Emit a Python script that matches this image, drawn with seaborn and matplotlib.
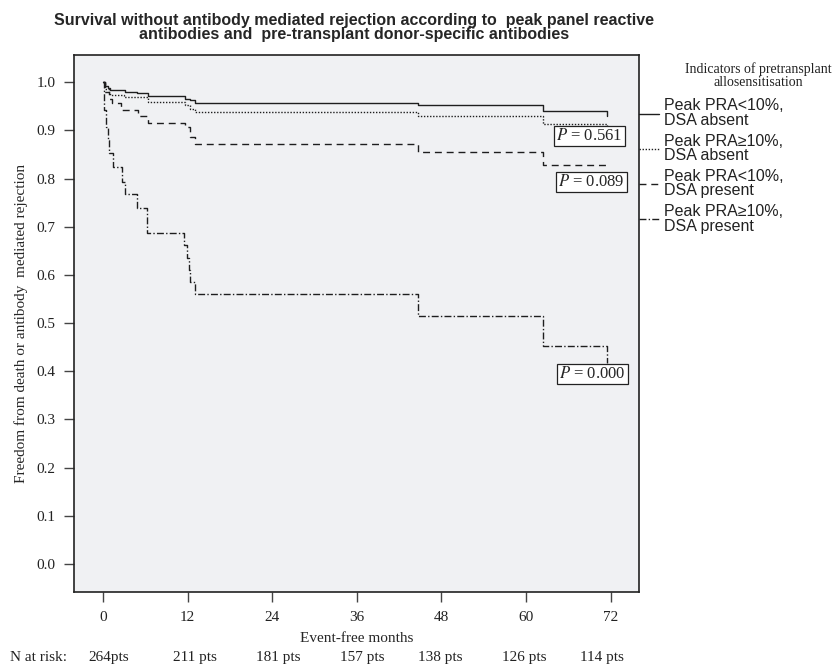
# Kaplan-Meier style curves: survival without antibody mediated rejection
import seaborn as sns
import matplotlib.pyplot as plt
import pandas as pd
from matplotlib.lines import Line2D
from matplotlib.transforms import blended_transform_factory

# curve data (months, survival)
months_a = [0, 0.3, 0.75, 1.0, 3.1, 4.8, 6.4, 11.6, 12.3, 13.0, 44.6, 62.4, 71.4]
surv_a = [1.0, 0.992, 0.987, 0.983, 0.980, 0.977, 0.972, 0.966, 0.962, 0.957, 0.952, 0.941, 0.930]

months_b = [0, 0.3, 0.8, 1.0, 3.0, 6.4, 11.6, 12.3, 13.0, 44.6, 62.4, 71.4]
surv_b = [1.0, 0.985, 0.978, 0.973, 0.970, 0.959, 0.952, 0.944, 0.938, 0.929, 0.914, 0.910]

months_c = [0, 0.3, 0.8, 1.3, 2.6, 5.0, 6.4, 11.6, 12.3, 13.0, 44.6, 62.4, 71.4]
surv_c = [1.0, 0.980, 0.965, 0.956, 0.942, 0.929, 0.916, 0.907, 0.887, 0.871, 0.855, 0.828, 0.824]

months_d = [0, 0.2, 0.4, 0.7, 0.9, 1.4, 2.65, 3.1, 4.8, 6.3, 11.5, 11.95, 12.2, 12.4, 13.0, 44.6, 62.4, 71.4]
surv_d = [1.0, 0.942, 0.907, 0.880, 0.853, 0.824, 0.793, 0.767, 0.738, 0.686, 0.662, 0.635, 0.610, 0.586, 0.560, 0.515, 0.452, 0.417]

groups = ["Peak PRA<10%,\nDSA absent", "Peak PRA\u226510%,\nDSA absent",
          "Peak PRA<10%,\nDSA present", "Peak PRA\u226510%,\nDSA present"]
p_values = ["0.561", "0.089", "0.000"]
x_ticks = [0, 12, 24, 36, 48, 60, 72]
n_at_risk = ["264pts", "211 pts", "181 pts", "157 pts", "138 pts", "126 pts", "114 pts"]

frames = []
for g, t, s in zip(groups, [months_a, months_b, months_c, months_d], [surv_a, surv_b, surv_c, surv_d]):
    frames.append(pd.DataFrame({"months": t, "surv": s, "group": g}))
df = pd.concat(frames, ignore_index=True)

sns.set_theme(style="ticks")
plt.rcParams["font.family"] = ["Liberation Serif", "DejaVu Serif"]
plt.rcParams["mathtext.fontset"] = "stix"

serif = ["Liberation Serif", "DejaVu Serif"]
sans = ["Liberation Sans", "DejaVu Sans"]
line_col = "#1e1e1e"
dash_map = {groups[0]: "", groups[1]: (1, 1.2), groups[2]: (5, 3.5), groups[3]: (5, 1.6, 1, 1.6)}

fig = plt.figure(figsize=(8.32, 6.65), dpi=100)
ax = fig.add_axes([0.089, 0.110, 0.679, 0.807])
ax.set_facecolor("#f0f1f3")

sns.lineplot(data=df, x="months", y="surv", hue="group", style="group",
             palette={g: line_col for g in groups}, dashes=dash_map,
             drawstyle="steps-post", linewidth=1.0, estimator=None,
             sort=False, legend=False, ax=ax)

ax.set_xlim(-4.1, 76)
ax.set_ylim(-0.058, 1.056)
ax.set_xticks(x_ticks)
ax.set_yticks([i / 10 for i in range(11)])
ax.set_yticklabels([f"{i / 10:.1f}" for i in range(11)])
ax.tick_params(length=7.5, width=1, color="#444444", labelsize=11, labelcolor="#222222", pad=6)
for sp in ax.spines.values():
    sp.set_color("#222222")
    sp.set_linewidth(1.2)

ax.set_xlabel("Event-free months", fontsize=11, family=serif, labelpad=6)
ax.set_ylabel("Freedom from death or antibody  mediated rejection", fontsize=11, family=serif, labelpad=6)

# P-value boxes
for (px, py), p in zip([(69.0, 0.888), (69.3, 0.793), (69.4, 0.394)], p_values):
    ax.text(px, py, rf"$P$ = {p}", ha="center", va="center", fontsize=12, family=serif,
            bbox=dict(boxstyle="square,pad=0.12", fc="white", ec="#222222", lw=0.9))

fig.text(0.4255, 0.980, "Survival without antibody mediated rejection according to  peak panel reactive\n"
         "antibodies and  pre-transplant donor-specific antibodies",
         ha="center", va="top", fontsize=11.5, fontweight="bold", family=sans, linespacing=0.9)

# legend
fig.text(0.999, 0.8865, "Indicators of pretransplant\nallosensitisation", ha="right", va="center",
         multialignment="center", fontsize=10, family=serif, linespacing=1.0, color="#222222")
handles = [Line2D([], [], color=line_col, lw=1.0,
                  linestyle="-" if dash_map[g] == "" else (0, dash_map[g])) for g in groups]
leg = fig.legend(handles, groups, loc="upper left", bbox_to_anchor=(0.768, 0.852),
                 frameon=False, handlelength=1.25, handletextpad=0.3, labelspacing=0.37,
                 prop={"family": sans, "size": 11.5}, borderaxespad=0, borderpad=0)
for t in leg.get_texts():
    t.set_linespacing(0.95)
    t.set_color("#222222")

# numbers at risk below the axis (labels sit on their own, slightly narrower grid)
trans = blended_transform_factory(ax.transData, fig.transFigure)
fig.text(0.012, 0.012, "N at risk:", fontsize=11, family=serif, va="center", color="#222222")
label_x = [0.85, 13.0, 24.9, 36.7, 47.8, 59.8, 70.7]
for m, n in zip(label_x, n_at_risk):
    ax.text(m, 0.012, n, transform=trans, ha="center", va="center", fontsize=11,
            family=serif, color="#222222", clip_on=False)

fig.savefig("out.png", dpi=100)
plt.close(fig)
